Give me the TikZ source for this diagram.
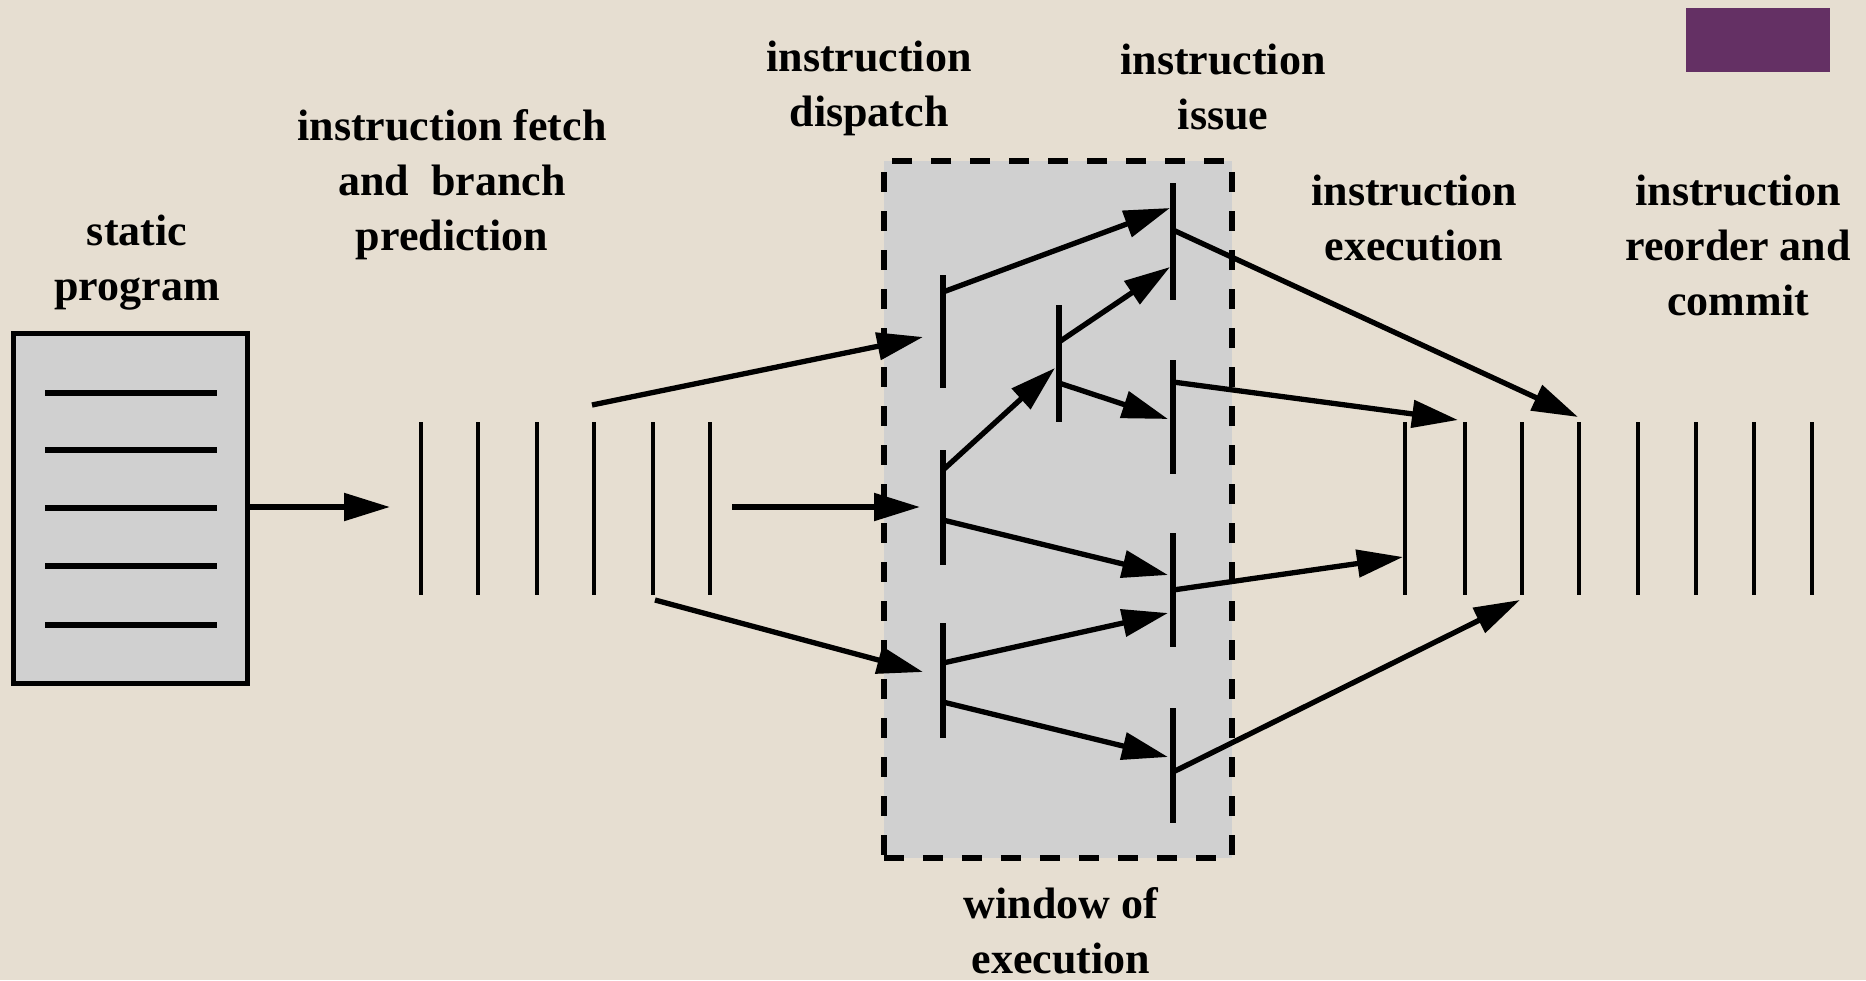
\documentclass[tikz,border=0pt]{standalone}
\usepackage{fontspec}
\setmainfont{Liberation Serif}
\usetikzlibrary{arrows.meta}
\definecolor{bgc}{RGB}{230,222,209}
\definecolor{boxgray}{RGB}{208,208,208}
\definecolor{purp}{RGB}{100,48,100}
\begin{document}
\begin{tikzpicture}[x=1pt,y=-1pt,
  lbl/.style={font=\bfseries\fontsize{44}{55}\selectfont, align=center, inner sep=0pt},
  bar/.style={line width=5.5pt},
  thinbar/.style={line width=4.2pt},
  arr/.style={line width=5.3pt, -{Triangle[length=46pt,width=27pt]}},
  progline/.style={line width=6.5pt},
]
\useasboundingbox (0,0) rectangle (1866,980);
\fill[bgc] (0,0) rectangle (1866,980);

% purple tag
\node[fill=purp, minimum width=144pt, minimum height=64pt, inner sep=0pt] (tag) at (1758,40) {};

% static program box
\node[draw, fill=boxgray, line width=5pt, minimum width=234pt, minimum height=350pt, inner sep=0pt] (prog) at (130,508) {};
\foreach \y in {393,450,508,566,625} \draw[progline] (45,\y) -- (217,\y);

% window of execution
\node[draw, fill=boxgray, line width=6pt, dash pattern=on 20pt off 19pt, minimum width=348pt, minimum height=697pt, inner sep=0pt] (win) at (1058,509.5) {};

% fetch buffer bars
\foreach \x in {421,478,537,594,653,710} \draw[thinbar] (\x,422) -- (\x,595);
% execution / commit bars
\foreach \x in {1405,1465,1522,1579,1638,1696,1754,1812} \draw[thinbar] (\x,422) -- (\x,595);

% dispatch, inner and issue bars
\draw[bar] (943,275) -- (943,388);
\draw[bar] (943,450) -- (943,565);
\draw[bar] (943,623) -- (943,738);
\draw[bar] (1059,305) -- (1059,422);
\draw[bar] (1173,183) -- (1173,300);
\draw[bar] (1173,360) -- (1173,474);
\draw[bar] (1173,533) -- (1173,647);
\draw[bar] (1173,708) -- (1173,823);

% connector points
\coordinate (pin) at (390,507);
\coordinate (f4) at (592,405);
\coordinate (fmid) at (732,507);
\coordinate (f5) at (655,600);
\coordinate (d1in) at (923,337);
\coordinate (d2in) at (920,507);
\coordinate (d3in) at (923,672);
\coordinate (d1out) at (943,292);
\coordinate (d2outa) at (943,470);
\coordinate (d2outb) at (943,520);
\coordinate (d3outa) at (943,663);
\coordinate (d3outb) at (943,702);
\coordinate (nin) at (1055,368);
\coordinate (nouta) at (1059,342);
\coordinate (noutb) at (1059,383);
\coordinate (i1ina) at (1170,208);
\coordinate (i1inb) at (1170,267);
\coordinate (i2in) at (1168,419);
\coordinate (i3ina) at (1168,575);
\coordinate (i3inb) at (1168,613);
\coordinate (i4in) at (1168,757);
\coordinate (i1out) at (1173,230);
\coordinate (i2out) at (1173,382);
\coordinate (i3out) at (1173,590);
\coordinate (i4out) at (1173,772);
\coordinate (e1) at (1403,557);
\coordinate (e2) at (1458,420);
\coordinate (e3) at (1520,600);
\coordinate (e4) at (1578,417);

\draw[arr] (prog.east |- pin) -- (pin);
\draw[arr] (f4) -- (d1in);
\draw[arr] (fmid) -- (d2in);
\draw[arr] (f5) -- (d3in);
\draw[arr] (d1out) -- (i1ina);
\draw[arr] (d2outa) -- (nin);
\draw[arr] (nouta) -- (i1inb);
\draw[arr] (noutb) -- (i2in);
\draw[arr] (d2outb) -- (i3ina);
\draw[arr] (d3outa) -- (i3inb);
\draw[arr] (d3outb) -- (i4in);
\draw[arr] (i1out) -- (e4);
\draw[arr] (i2out) -- (e2);
\draw[arr] (i3out) -- (e1);
\draw[arr] (i4out) -- (e3);

% labels
\node[lbl] (lprog) at (137,263) {static\\program};
\node[lbl] (lfetch) at (452,185) {instruction fetch\\and\ \ branch\\prediction};
\node[lbl] (ldisp) at (869,88) {instruction\\dispatch};
\node[lbl] (lissue) at (1223,87) {instruction\\issue};
\node[lbl] (lexec) at (1414,218) {instruction\\execution};
\node[lbl] (lcommit) at (1738,245) {instruction\\reorder and\\commit};
\node[lbl] (lwin) at (1061,931) {window of\\execution};
\end{tikzpicture}
\end{document}
